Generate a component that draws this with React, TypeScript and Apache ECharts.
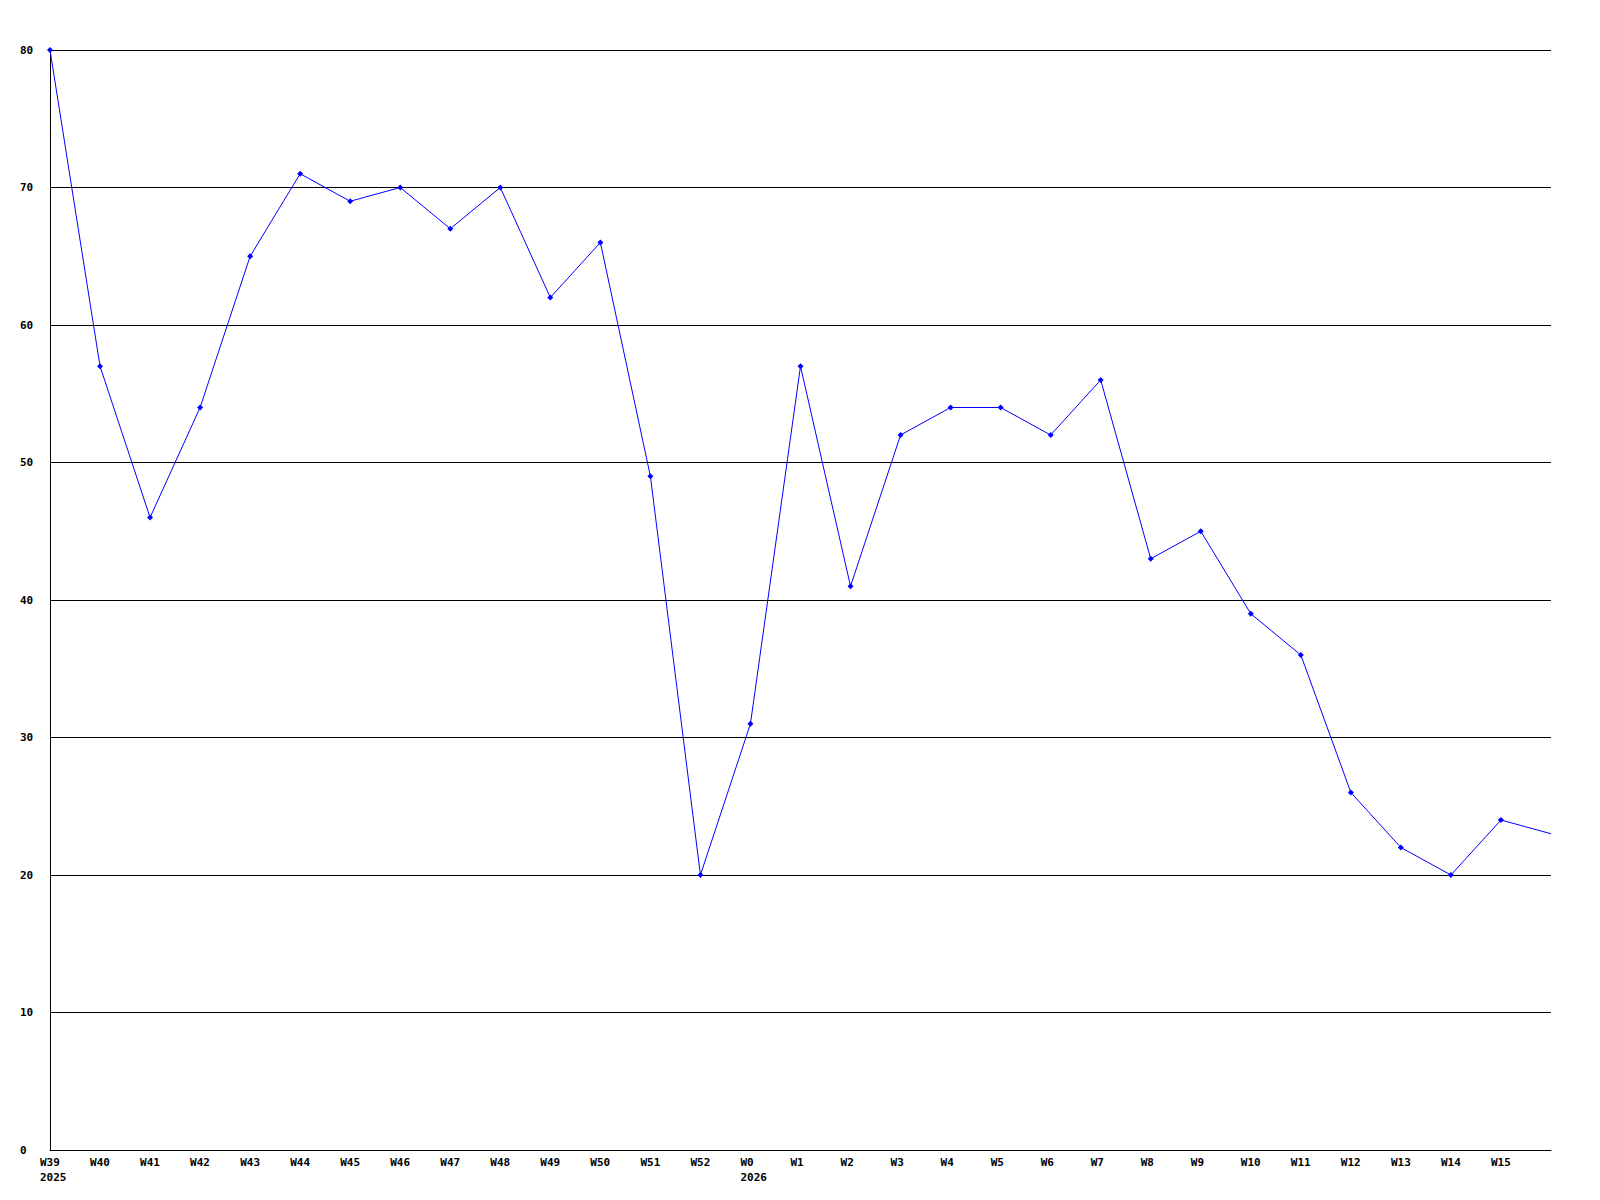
import React, { useEffect, useRef } from "react";
import * as echarts from "echarts";

const weekLabels: string[] = [
  "W39\n2025", "W40", "W41", "W42", "W43", "W44", "W45", "W46", "W47", "W48",
  "W49", "W50", "W51", "W52", "W0\n2026", "W1", "W2", "W3", "W4", "W5",
  "W6", "W7", "W8", "W9", "W10", "W11", "W12", "W13", "W14", "W15", "",
];

const values: number[] = [
  80, 57, 46, 54, 65, 71, 69, 70, 67, 70,
  62, 66, 49, 20, 31, 57, 41, 52, 54, 54,
  52, 56, 43, 45, 39, 36, 26, 22, 20, 24, 23,
];

const yMin = 0;
const yMax = 80;
const yStep = 10;

export default function App() {
  const ref = useRef<HTMLDivElement>(null);
  useEffect(() => {
    if (!ref.current) return;
    const chart = echarts.init(ref.current, undefined, { renderer: "svg" });
    const font = "'DejaVu Sans Mono', monospace";
    const seriesData = values.map((v, i) =>
      i === values.length - 1 ? { value: v, symbol: "none" } : v
    );
    chart.setOption({
      animation: false,
      backgroundColor: "#ffffff",
      grid: { left: 50, right: 49, top: 50, bottom: 50, containLabel: false },
      xAxis: {
        type: "category",
        data: weekLabels,
        boundaryGap: false,
        axisLine: { show: true, lineStyle: { color: "#000", width: 1 } },
        axisTick: { show: false },
        splitLine: { show: false },
        axisLabel: {
          interval: 0,
          margin: 5,
          align: "center",
          formatter: (v: string) =>
            v
              .split("\n")
              .map((l) => "{a|" + l + "}")
              .join("\n"),
          rich: {
            a: {
              width: 20,
              align: "left",
              fontFamily: font,
              fontWeight: "bold",
              fontSize: 11,
              lineHeight: 15,
              color: "#000",
            },
          },
        },
      },
      yAxis: {
        type: "value",
        min: yMin,
        max: yMax,
        interval: yStep,
        axisLine: { show: true, lineStyle: { color: "#000", width: 1 } },
        axisTick: { show: false },
        splitLine: { show: true, lineStyle: { color: "#000", width: 1 } },
        axisLabel: {
          margin: 30,
          align: "left",
          fontFamily: font,
          fontWeight: "bold",
          fontSize: 11,
          color: "#000",
        },
      },
      series: [
        {
          type: "line",
          data: seriesData,
          symbol: "diamond",
          symbolSize: 6,
          showSymbol: true,
          lineStyle: { color: "#0000ff", width: 1 },
          itemStyle: { color: "#0000ff" },
          clip: false,
        },
      ],
    });
    return () => chart.dispose();
  }, []);
  return (
    <div
      ref={ref}
      style={{ position: "absolute", left: 0, top: 0, width: 1600, height: 1200 }}
    />
  );
}
